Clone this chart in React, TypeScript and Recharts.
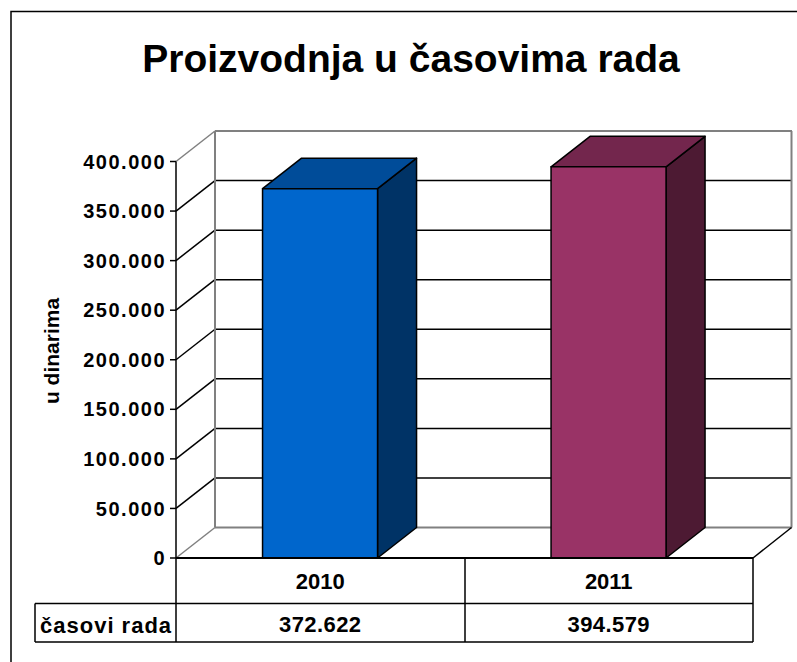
import React from "react";
import { ComposedChart, Bar, XAxis, YAxis, CartesianGrid } from "recharts";

const categories = ["2010", "2011"];
const hours = [372622, 394579];
const valueLabels = ["372.622", "394.579"];
const yTicks = [0, 50000, 100000, 150000, 200000, 250000, 300000, 350000, 400000];
const frontColors = ["#0066CC", "#993366"];
const topColors = ["#004C99", "#73264D"];
const sideColors = ["#003366", "#4D1A33"];
const data = categories.map((year, i) => ({ year, hours: hours[i] }));

const DX = 39;
const DY = 30.5;
const FONT = "'Liberation Sans', Arial, sans-serif";
const GREY = "#808080";

const fmt = (v: number) => (v === 0 ? "0" : String(v).replace(/(\d)(\d{3})$/, "$1.$2"));

const Box3D = (p: any) => {
  const { x, y, width, height, index } = p;
  const s = { stroke: "#000", strokeWidth: 1.5, strokeLinejoin: "round" as const };
  return (
    <g>
      <path d={`M${x + width},${y} l${DX},${-DY} v${height} l${-DX},${DY} Z`} fill={sideColors[index]} {...s} />
      <path d={`M${x},${y} l${DX},${-DY} h${width} l${-DX},${DY} Z`} fill={topColors[index]} {...s} />
      <rect x={x} y={y} width={width} height={height} fill={frontColors[index]} {...s} />
    </g>
  );
};

const GridLine = (p: any) => {
  const { x1, x2, y1 } = p;
  const isEdge = y1 > 550 || y1 < 170;
  const c = isEdge ? GREY : "#000";
  return (
    <g>
      <line x1={x1} y1={y1} x2={x1 + DX} y2={y1 - DY} stroke={c} strokeWidth={1.5} />
      <line x1={x1 + DX} y1={y1 - DY} x2={x2 + DX} y2={y1 - DY} stroke={c} strokeWidth={isEdge ? 2 : 1.5} />
    </g>
  );
};

const YearTick = (p: any) => {
  const { x, payload, index } = p;
  return (
    <g>
      <text x={x} y={589} textAnchor="middle" fontFamily={FONT} fontWeight="bold" fontSize={22}>{payload.value}</text>
      <text x={x} y={632} textAnchor="middle" fontFamily={FONT} fontWeight="bold" fontSize={22} letterSpacing={0.4}>{valueLabels[index]}</text>
    </g>
  );
};

export default function App() {
  return (
    <div style={{ position: "absolute", left: 0, top: 0, width: 797, height: 662, background: "#fff" }}>
      <ComposedChart
        width={797}
        height={662}
        data={data}
        margin={{ left: 86, right: 44, top: 161.5, bottom: 59 }}
        barCategoryGap="30%"
      >
        <path d="M11,662 V11.5 H797" fill="none" stroke="#000" strokeWidth={1.5} />
        <text x={411} y={72} textAnchor="middle" fontFamily={FONT} fontWeight="bold" fontSize={39}>
          Proizvodnja u časovima rada
        </text>
        <CartesianGrid vertical={false} horizontal={(props: any) => <GridLine {...props} />} syncWithTicks />
        <line x1={215} y1={131} x2={215} y2={527.5} stroke={GREY} strokeWidth={2} />
        <line x1={791.5} y1={131} x2={791.5} y2={527.5} stroke={GREY} strokeWidth={2} />
        <line x1={753} y1={558} x2={791.5} y2={527.5} stroke="#000" strokeWidth={1.5} />
        <XAxis dataKey="year" height={45} tickLine={false} axisLine={{ stroke: "#000", strokeWidth: 2 }} tick={(props: any) => <YearTick {...props} />} interval={0} />
        <YAxis
          width={90}
          domain={[0, 400000]}
          ticks={yTicks}
          interval={0}
          tickFormatter={fmt}
          tickSize={6}
          tickMargin={4}
          axisLine={{ stroke: "#000", strokeWidth: 1.5 }}
          tickLine={{ stroke: "#000", strokeWidth: 1.5 }}
          tick={{ fill: "#000", fontFamily: FONT, fontWeight: "bold", fontSize: 20, letterSpacing: 1.5 }}
        />
        <Bar dataKey="hours" isAnimationActive={false} shape={(props: any) => <Box3D {...props} />} />
        <path d="M176,558 V642 M35,603.5 H753 M35,642 H753 M35,603.5 V642 M465,558 V642 M753,558 V642" fill="none" stroke="#000" strokeWidth={1.5} />
        <text x={40} y={633} fontFamily={FONT} fontWeight="bold" fontSize={22} letterSpacing={1}>časovi rada</text>
        <text transform="translate(59,351) rotate(-90)" textAnchor="middle" fontFamily={FONT} fontWeight="bold" fontSize={21}>u dinarima</text>
      </ComposedChart>
    </div>
  );
}
